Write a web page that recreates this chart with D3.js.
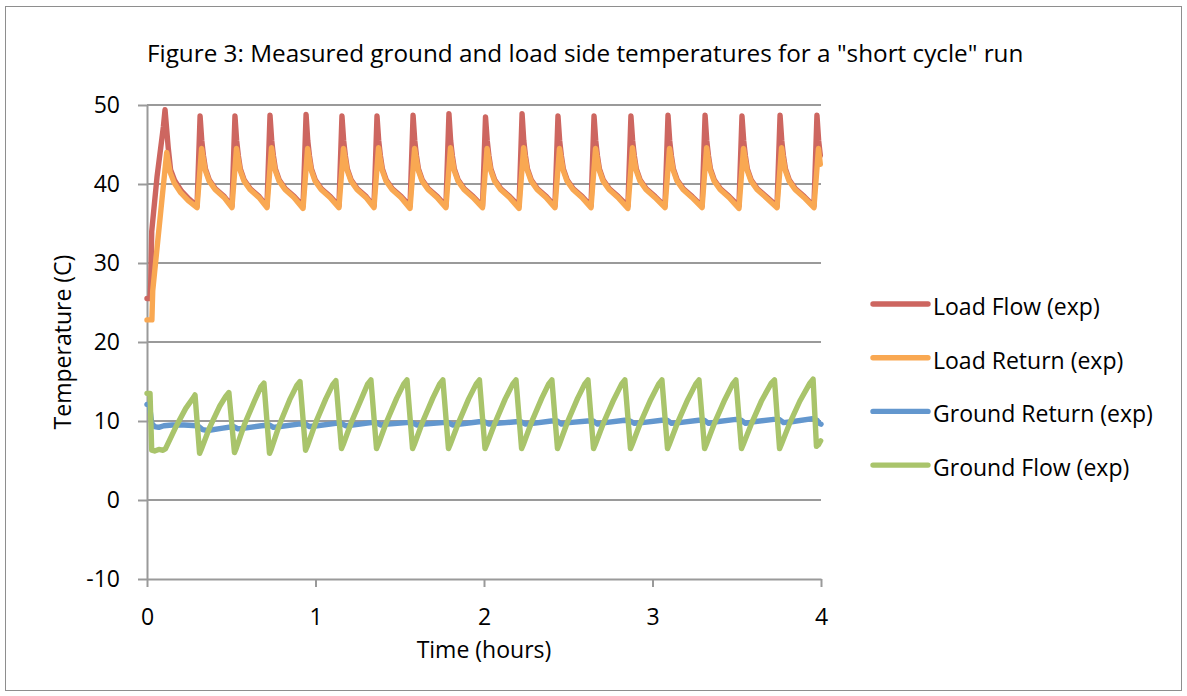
<!DOCTYPE html>
<html><head><meta charset="utf-8">
<script src="https://cdn.jsdelivr.net/npm/d3@7"></script>
<style>
body{margin:0;background:#fff}
text{font-family:"Open Sans",sans-serif;fill:#000}
</style>
</head><body>
<svg id="c" width="1187" height="696"></svg>
<script>
// ---------- data ----------
const title = 'Figure 3: Measured ground and load side temperatures for a "short cycle" run';
const xTicks = [0, 1, 2, 3, 4];
const yTicks = [-10, 0, 10, 20, 30, 40, 50];
const xLabel = "Time (hours)";
const yLabel = "Temperature (C)";
const seriesNames = ["Load Flow (exp)", "Load Return (exp)", "Ground Return (exp)", "Ground Flow (exp)"];
const seriesColors = ["#CD6660", "#F9A852", "#6397CE", "#A9C46B"];

// [time (hours), temperature (C)]
const loadFlow = [
 [0,25.5],[0.018,25.5],[0.022,27.3],[0.028,34.0],[0.060,41.0],[0.097,47.2],[0.107,49.4],[0.126,44.6],[0.140,41.8],[0.165,40.4],[0.205,39.1],[0.250,38.1],[0.297,37.2],
 [0.315,48.6],[0.325,45.5],[0.335,43.6],[0.347,41.9],[0.370,40.5],[0.406,39.4],[0.459,38.4],[0.504,37.2],
 [0.522,48.6],[0.532,45.5],[0.542,43.6],[0.554,41.9],[0.577,40.5],[0.613,39.4],[0.666,38.4],[0.712,37.2],
 [0.730,48.7],[0.740,45.5],[0.750,43.6],[0.762,41.9],[0.785,40.5],[0.821,39.4],[0.874,38.4],[0.926,37.2],
 [0.944,48.8],[0.954,45.5],[0.964,43.6],[0.976,41.9],[0.999,40.5],[1.035,39.4],[1.088,38.4],[1.139,37.2],
 [1.157,48.6],[1.167,45.5],[1.177,43.6],[1.189,41.9],[1.212,40.5],[1.248,39.4],[1.301,38.4],[1.347,37.2],
 [1.365,48.6],[1.375,45.5],[1.385,43.6],[1.397,41.9],[1.420,40.5],[1.456,39.4],[1.509,38.4],[1.561,37.2],
 [1.579,48.7],[1.589,45.5],[1.599,43.6],[1.611,41.9],[1.634,40.5],[1.670,39.4],[1.723,38.4],[1.774,37.2],
 [1.792,48.9],[1.802,45.5],[1.812,43.6],[1.824,41.9],[1.847,40.5],[1.883,39.4],[1.936,38.4],[1.991,37.2],
 [2.009,48.5],[2.019,45.5],[2.029,43.6],[2.041,41.9],[2.064,40.5],[2.100,39.4],[2.153,38.4],[2.208,37.2],
 [2.226,48.9],[2.236,45.5],[2.246,43.6],[2.258,41.9],[2.281,40.5],[2.317,39.4],[2.370,38.4],[2.421,37.2],
 [2.439,48.6],[2.449,45.5],[2.459,43.6],[2.471,41.9],[2.494,40.5],[2.530,39.4],[2.583,38.4],[2.635,37.2],
 [2.653,48.6],[2.663,45.5],[2.673,43.6],[2.685,41.9],[2.708,40.5],[2.744,39.4],[2.797,38.4],[2.854,37.2],
 [2.872,48.6],[2.882,45.5],[2.892,43.6],[2.904,41.9],[2.927,40.5],[2.963,39.4],[3.016,38.4],[3.074,37.2],
 [3.092,48.7],[3.102,45.5],[3.112,43.6],[3.124,41.9],[3.147,40.5],[3.183,39.4],[3.236,38.4],[3.294,37.2],
 [3.312,48.7],[3.322,45.5],[3.332,43.6],[3.344,41.9],[3.367,40.5],[3.403,39.4],[3.456,38.4],[3.513,37.2],
 [3.531,48.6],[3.541,45.5],[3.551,43.6],[3.563,41.9],[3.586,40.5],[3.622,39.4],[3.675,38.4],[3.739,37.2],
 [3.757,48.7],[3.767,45.5],[3.777,43.6],[3.789,41.9],[3.812,40.5],[3.848,39.4],[3.901,38.4],[3.958,37.2],
 [3.976,48.7],[3.986,45.5],[3.996,43.6]
];

const loadReturn = [
 [0,22.8],[0.029,22.8],[0.034,26.5],[0.117,44.0],[0.137,41.5],[0.160,40.2],[0.200,38.9],[0.245,37.9],[0.297,37.0],
 [0.324,44.5],[0.333,43.3],[0.345,41.8],[0.368,40.4],[0.404,39.3],[0.457,38.3],[0.504,37.0],
 [0.531,44.5],[0.540,43.3],[0.552,41.8],[0.575,40.4],[0.611,39.3],[0.664,38.3],[0.712,37.0],
 [0.739,44.6],[0.748,43.3],[0.760,41.8],[0.783,40.4],[0.819,39.3],[0.872,38.3],[0.926,36.9],
 [0.953,44.5],[0.962,43.3],[0.974,41.8],[0.997,40.4],[1.033,39.3],[1.086,38.3],[1.139,37.0],
 [1.166,44.5],[1.175,43.3],[1.187,41.8],[1.210,40.4],[1.246,39.3],[1.299,38.3],[1.347,37.0],
 [1.374,44.6],[1.383,43.3],[1.395,41.8],[1.418,40.4],[1.454,39.3],[1.507,38.3],[1.561,36.9],
 [1.588,44.5],[1.597,43.3],[1.609,41.8],[1.632,40.4],[1.668,39.3],[1.721,38.3],[1.774,37.0],
 [1.801,44.6],[1.810,43.3],[1.822,41.8],[1.845,40.4],[1.881,39.3],[1.934,38.3],[1.991,37.0],
 [2.018,44.5],[2.027,43.3],[2.039,41.8],[2.062,40.4],[2.098,39.3],[2.151,38.3],[2.208,36.9],
 [2.235,44.6],[2.244,43.3],[2.256,41.8],[2.279,40.4],[2.315,39.3],[2.368,38.3],[2.421,37.0],
 [2.448,44.5],[2.457,43.3],[2.469,41.8],[2.492,40.4],[2.528,39.3],[2.581,38.3],[2.635,37.0],
 [2.662,44.5],[2.671,43.3],[2.683,41.8],[2.706,40.4],[2.742,39.3],[2.795,38.3],[2.854,36.9],
 [2.881,44.6],[2.890,43.3],[2.902,41.8],[2.925,40.4],[2.961,39.3],[3.014,38.3],[3.074,37.0],
 [3.101,44.5],[3.110,43.3],[3.122,41.8],[3.145,40.4],[3.181,39.3],[3.234,38.3],[3.294,37.0],
 [3.321,44.6],[3.330,43.3],[3.342,41.8],[3.365,40.4],[3.401,39.3],[3.454,38.3],[3.513,36.9],
 [3.540,44.5],[3.549,43.3],[3.561,41.8],[3.584,40.4],[3.620,39.3],[3.673,38.3],[3.739,37.0],
 [3.766,44.6],[3.775,43.3],[3.787,41.8],[3.810,40.4],[3.846,39.3],[3.899,38.3],[3.958,37.0],
 [3.985,44.5],[3.996,42.5]
];

const groundReturn = [
 [0,12.1],[0.015,12.0],[0.028,9.7],[0.045,9.3],[0.070,9.2],[0.100,9.4],[0.150,9.5],[0.220,9.5],[0.300,9.4],[0.330,8.9],[0.360,8.8],[0.450,9.1],
 [0.515,9.3],[0.540,9.0],[0.580,9.1],[0.680,9.4],
 [0.725,9.5],[0.750,9.2],[0.790,9.3],[0.900,9.6],
 [0.940,9.6],[0.965,9.3],[1.010,9.4],[1.120,9.7],
 [1.152,9.7],[1.178,9.4],[1.220,9.5],[1.330,9.8],
 [1.360,9.8],[1.386,9.5],[1.430,9.6],[1.540,9.8],
 [1.574,9.8],[1.600,9.5],[1.645,9.6],[1.755,9.8],
 [1.787,9.8],[1.813,9.5],[1.860,9.6],[1.970,9.9],
 [2.004,9.9],[2.030,9.6],[2.075,9.7],[2.190,9.9],
 [2.221,9.9],[2.247,9.6],[2.290,9.7],[2.400,10.0],
 [2.434,10.0],[2.460,9.6],[2.505,9.8],[2.615,10.0],
 [2.648,10.0],[2.674,9.6],[2.720,9.8],[2.835,10.1],
 [2.867,10.0],[2.893,9.7],[2.940,9.8],[3.055,10.1],
 [3.087,10.1],[3.113,9.7],[3.160,9.8],[3.275,10.1],
 [3.307,10.1],[3.333,9.7],[3.380,9.9],[3.495,10.2],
 [3.526,10.1],[3.552,9.7],[3.600,9.9],[3.720,10.2],
 [3.752,10.2],[3.778,9.8],[3.825,9.9],[3.950,10.3],
 [3.976,10.1],[3.990,9.7],[4.000,9.6]
];

const groundFlow = [
 [0,13.5],[0.018,13.5],[0.028,6.3],[0.045,6.2],[0.070,6.4],[0.095,6.3],[0.110,6.5],[0.170,9.2],[0.230,11.6],[0.270,12.8],[0.285,13.3],[0.312,5.9],
 [0.322,6.4],[0.372,9.2],[0.432,11.9],[0.467,13.1],[0.486,13.6],[0.519,6.0],
 [0.529,6.5],[0.579,9.6],[0.639,12.6],[0.675,14.3],[0.694,14.8],[0.727,5.9],
 [0.737,6.4],[0.787,9.6],[0.847,12.7],[0.889,14.5],[0.908,15.0],[0.941,6.3],
 [0.951,6.8],[1.001,9.8],[1.061,12.8],[1.102,14.6],[1.121,15.1],[1.154,6.5],
 [1.164,7.0],[1.214,9.9],[1.274,12.9],[1.310,14.7],[1.329,15.2],[1.362,6.5],
 [1.372,7.0],[1.422,9.9],[1.482,12.9],[1.524,14.7],[1.543,15.2],[1.576,6.5],
 [1.586,7.0],[1.636,9.9],[1.696,12.9],[1.737,14.7],[1.756,15.2],[1.789,6.5],
 [1.799,7.0],[1.849,9.8],[1.909,12.8],[1.954,14.7],[1.973,15.2],[2.006,6.5],
 [2.016,7.0],[2.066,9.8],[2.126,12.8],[2.171,14.7],[2.190,15.2],[2.223,6.5],
 [2.233,7.0],[2.283,9.9],[2.343,12.9],[2.384,14.7],[2.403,15.2],[2.436,6.5],
 [2.446,7.0],[2.496,9.9],[2.556,12.9],[2.598,14.7],[2.617,15.2],[2.650,6.5],
 [2.660,7.0],[2.710,9.8],[2.770,12.7],[2.817,14.7],[2.836,15.2],[2.869,6.5],
 [2.879,7.0],[2.929,9.8],[2.989,12.7],[3.037,14.7],[3.056,15.2],[3.089,6.5],
 [3.099,7.0],[3.149,9.8],[3.209,12.7],[3.257,14.7],[3.276,15.2],[3.309,6.5],
 [3.319,7.0],[3.369,9.8],[3.429,12.7],[3.476,14.7],[3.495,15.2],[3.528,6.5],
 [3.538,7.0],[3.588,9.7],[3.648,12.6],[3.705,14.8],[3.724,15.2],[3.754,6.5],
 [3.764,7.0],[3.814,9.7],[3.874,12.5],[3.934,14.8],[3.953,15.3],[3.973,6.8],
 [3.985,7.0],[3.998,7.5]
];

const seriesData = [loadFlow, loadReturn, groundReturn, groundFlow];

// ---------- drawing ----------
const svg = d3.select("#c");
const gridColor = "#9a9a9a";
const lineW = 5.4;

svg.append("rect").attr("x", 5.5).attr("y", 6.5).attr("width", 1176).attr("height", 684)
  .attr("fill", "#fff").attr("stroke", "#8e8e8e").attr("stroke-width", 1);

const x = d3.scaleLinear().domain([0, 4]).range([147, 821]);
const y = d3.scaleLinear().domain([-10, 50]).range([579, 105]);

function fit(sel, target) {
  const w = sel.node().getComputedTextLength();
  const fs = parseFloat(sel.attr("font-size"));
  return fs * target / w;
}

const probe = svg.append("text").attr("font-size", 22).text(seriesNames[2]);
const fs = fit(probe, 220);
probe.remove();

// gridlines
svg.append("g").selectAll("line").data(yTicks.filter(d => d > -10)).join("line")
  .attr("x1", x(0)).attr("x2", x(4)).attr("y1", d => y(d)).attr("y2", d => y(d))
  .attr("stroke", gridColor).attr("stroke-width", 2);

// y axis
const yAxis = svg.append("g").attr("transform", `translate(${x(0)},0)`)
  .call(d3.axisLeft(y).tickValues(yTicks).tickFormat(d => String(d)).tickSize(9).tickPadding(18).tickSizeOuter(0));
yAxis.select(".domain").attr("stroke", gridColor).attr("stroke-width", 2);
yAxis.selectAll(".tick line").attr("stroke", gridColor).attr("stroke-width", 2);
yAxis.selectAll(".tick text").attr("font-size", fs).attr("font-family", '"Open Sans",sans-serif').attr("fill", "#000");

// x axis
const xAxis = svg.append("g").attr("transform", `translate(0,${y(-10)})`)
  .call(d3.axisBottom(x).tickValues(xTicks).tickFormat(d => String(d)).tickSize(8).tickPadding(22).tickSizeOuter(0));
xAxis.select(".domain").attr("stroke", gridColor).attr("stroke-width", 2);
xAxis.selectAll(".tick line").attr("stroke", gridColor).attr("stroke-width", 2);
xAxis.selectAll(".tick text").attr("font-size", fs).attr("font-family", '"Open Sans",sans-serif').attr("fill", "#000");

// lines
const line = d3.line().x(d => x(d[0])).y(d => y(d[1]));
svg.append("g").selectAll("path").data(seriesData).join("path")
  .attr("d", line).attr("fill", "none")
  .attr("stroke", (d, i) => seriesColors[i]).attr("stroke-width", lineW)
  .attr("stroke-linejoin", "round").attr("stroke-linecap", "round");

// title
const t = svg.append("text").attr("font-size", 22).text(title);
const tfs = fit(t, 877);
t.attr("font-size", tfs).attr("x", 147).attr("y", 62);

// axis titles
svg.append("text").attr("font-size", fs).attr("text-anchor", "middle")
  .attr("x", (x(0) + x(4)) / 2).attr("y", 658).text(xLabel);
svg.append("text").attr("font-size", fs).attr("text-anchor", "middle")
  .attr("transform", `translate(71,${(y(-10) + y(50)) / 2}) rotate(-90)`).text(yLabel);

// legend
const lg = svg.append("g").selectAll("g").data(seriesNames).join("g")
  .attr("transform", (d, i) => `translate(873,${304 + i * 53.7})`);
lg.append("line").attr("x1", 0).attr("x2", 55).attr("y1", 0).attr("y2", 0)
  .attr("stroke", (d, i) => seriesColors[i]).attr("stroke-width", lineW).attr("stroke-linecap", "round");
lg.append("text").attr("x", 60).attr("y", 11).attr("font-size", fs).text(d => d);
</script>
</body></html>
